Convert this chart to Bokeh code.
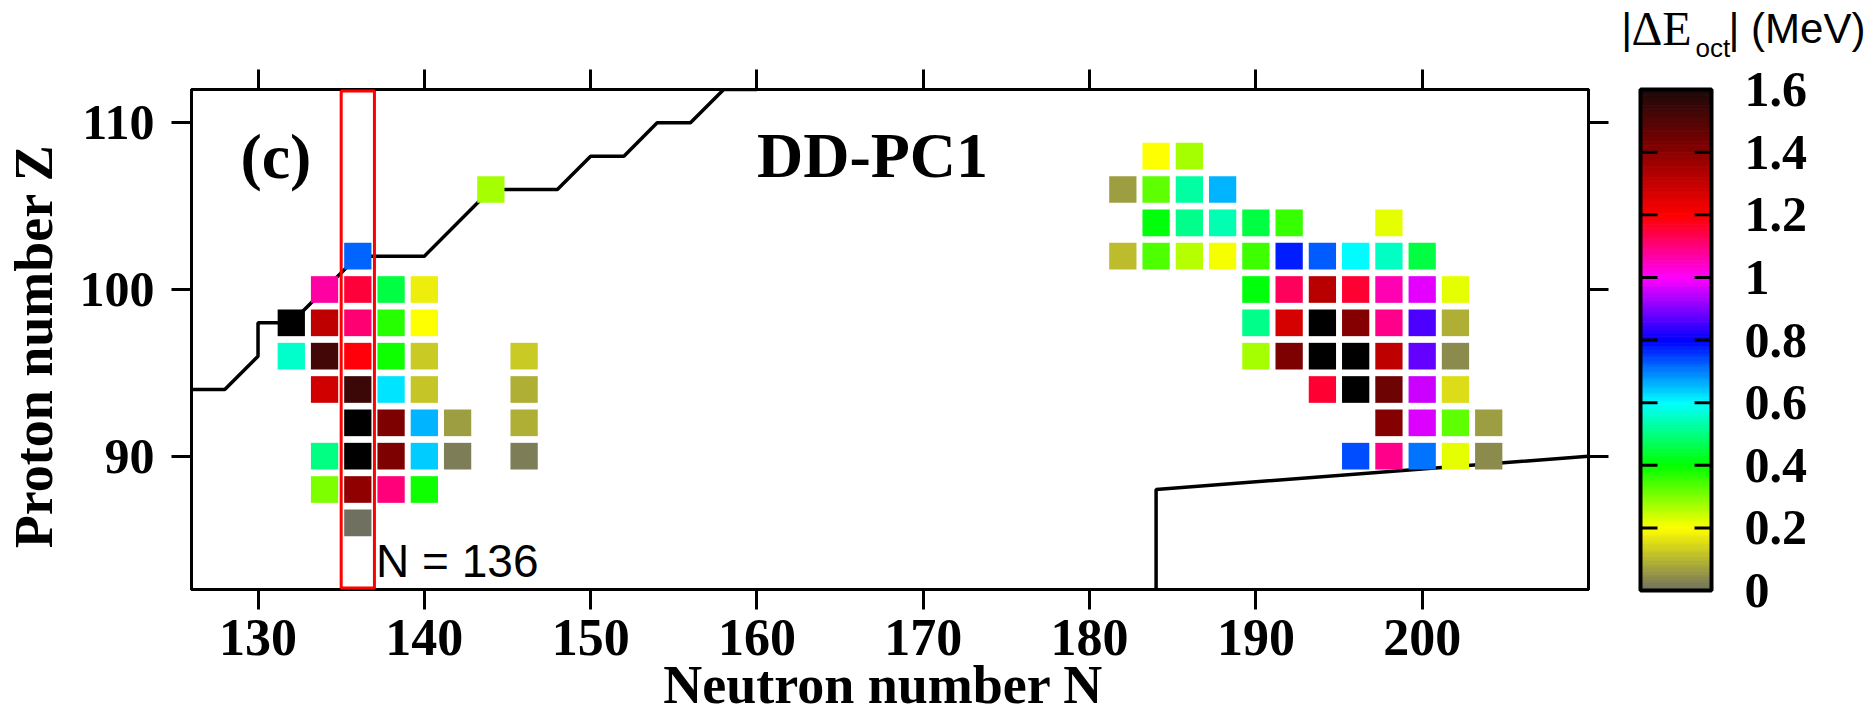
import numpy as np
from bokeh.plotting import figure
from bokeh.layouts import row
from bokeh.models import (ColumnDataSource, LinearColorMapper, FixedTicker, LinearAxis,
                          Label, Range1d, CustomJSTickFormatter)
from bokeh.core.properties import value
from bokeh.transform import transform
from bokeh.embed import file_html
from bokeh.resources import INLINE

# ---------------- data ----------------
# light-actinide island (N, Z, |dE_oct| MeV)
N_left = [144,
          136,
          134, 136, 138, 140,
          132, 134, 136, 138, 140,
          132, 134, 136, 138, 140, 146,
          134, 136, 138, 140, 146,
          136, 138, 140, 142, 146,
          134, 136, 138, 140, 142, 146,
          134, 136, 138, 140,
          136]
Z_left = [106,
          102,
          100, 100, 100, 100,
          98, 98, 98, 98, 98,
          96, 96, 96, 96, 96, 96,
          94, 94, 94, 94, 94,
          92, 92, 92, 92, 92,
          90, 90, 90, 90, 90, 90,
          88, 88, 88, 88,
          86]
E_left = [0.27,
          0.72,
          1.07, 1.15, 0.45, 0.18,
          1.70, 1.31, 1.11, 0.37, 0.20,
          0.56, 1.53, 1.19, 0.39, 0.13, 0.13,
          1.28, 1.54, 0.62, 0.12, 0.09,
          1.70, 1.42, 0.66, 0.065, 0.09,
          0.50, 1.70, 1.42, 0.64, 0.02, 0.02,
          0.30, 1.39, 1.10, 0.39,
          0.0]

# superheavy island
N_right = [184, 186,
           182, 184, 186, 188,
           184, 186, 188, 190, 192, 198,
           182, 184, 186, 188, 190, 192, 194, 196, 198, 200,
           190, 192, 194, 196, 198, 200, 202,
           190, 192, 194, 196, 198, 200, 202,
           190, 192, 194, 196, 198, 200, 202,
           194, 196, 198, 200, 202,
           198, 200, 202, 204,
           196, 198, 200, 202, 204]
Z_right = [108, 108,
           106, 106, 106, 106,
           104, 104, 104, 104, 104, 104,
           102, 102, 102, 102, 102, 102, 102, 102, 102, 102,
           100, 100, 100, 100, 100, 100, 100,
           98, 98, 98, 98, 98, 98, 98,
           96, 96, 96, 96, 96, 96, 96,
           94, 94, 94, 94, 94,
           92, 92, 92, 92,
           90, 90, 90, 90, 90]
E_right = [0.20, 0.27,
           0.065, 0.325, 0.525, 0.66,
           0.41, 0.51, 0.54, 0.45, 0.36, 0.22,
           0.11, 0.34, 0.26, 0.21, 0.35, 0.775, 0.725, 0.60, 0.55, 0.45,
           0.41, 1.125, 1.32, 1.16, 1.06, 0.975, 0.22,
           0.51, 1.27, 1.70, 1.41, 1.09, 0.86, 0.09,
           0.27, 1.42, 1.70, 1.70, 1.31, 0.875, 0.04,
           1.16, 1.70, 1.45, 0.96, 0.156,
           1.41, 0.97, 0.325, 0.065,
           0.74, 1.09, 0.71, 0.22, 0.04]

# proton drip line and right boundary
drip_N = [126, 128, 130, 130, 132, 136, 140, 144, 148, 150, 152, 154, 156, 158, 160]
drip_Z = [94, 94, 96, 98, 98, 102, 102, 106, 106, 108, 108, 110, 110, 112, 112]
bound_N = [184, 184, 210]
bound_Z = [82, 88, 90]

highlight_N = 136

x_ticks = [130, 140, 150, 160, 170, 180, 190, 200]
y_ticks = [90, 100, 110]
cb_ticks = [0, 0.2, 0.4, 0.6, 0.8, 1.0, 1.2, 1.4, 1.6]
cb_labels = ["0", "0.2", "0.4", "0.6", "0.8", "1", "1.2", "1.4", "1.6"]

# colour scale anchors
anchor_vals = [0, 0.2, 0.4, 0.6, 0.8, 1.0, 1.2, 1.4, 1.6]
anchor_rgb = [(112, 112, 96), (255, 255, 0), (0, 255, 0), (0, 255, 255), (0, 0, 255),
              (255, 0, 255), (255, 0, 0), (140, 0, 0), (28, 10, 10)]

# ---------------- palette ----------------
lv = np.linspace(0, 1.6, 256)
rr = np.interp(lv, anchor_vals, [c[0] for c in anchor_rgb])
gg = np.interp(lv, anchor_vals, [c[1] for c in anchor_rgb])
bb = np.interp(lv, anchor_vals, [c[2] for c in anchor_rgb])
palette = ["#%02x%02x%02x" % (int(round(a)), int(round(b)), int(round(c))) for a, b, c in zip(rr, gg, bb)]
mapper = LinearColorMapper(palette=palette, low=0, high=1.6, high_color="#000000", low_color=palette[0])

SERIF = "Liberation Serif"
SANS = "Liberation Sans"

# ---------------- main figure ----------------
p = figure(width=1620, height=717, x_range=Range1d(126, 210), y_range=Range1d(82, 112),
           output_backend="svg", toolbar_location=None, frame_align=False,
           min_border_left=187, min_border_right=32, min_border_top=89, min_border_bottom=127)
p.xgrid.visible = False
p.ygrid.visible = False
p.outline_line_color = "black"
p.outline_line_width = 3
p.background_fill_color = "white"

for ax in (p.xaxis[0], p.yaxis[0]):
    ax.axis_line_width = 3
    ax.axis_line_color = "black"
    ax.major_tick_line_width = 3
    ax.major_tick_line_color = "black"
    ax.major_tick_out = 20
    ax.major_tick_in = 0
    ax.minor_tick_line_color = None
    ax.major_label_text_font = SERIF
    ax.major_label_text_font_style = "bold"
    ax.major_label_text_color = "black"
    ax.axis_label_text_font = SERIF
    ax.axis_label_text_font_style = "bold"
    ax.axis_label_text_font_size = "54px"
    ax.axis_label_text_color = "black"

p.xaxis[0].ticker = FixedTicker(ticks=x_ticks)
p.yaxis[0].ticker = FixedTicker(ticks=y_ticks)
p.xaxis[0].major_label_text_font_size = "52px"
p.yaxis[0].major_label_text_font_size = "50px"
p.xaxis[0].major_label_standoff = 10
p.yaxis[0].major_label_standoff = 17
p.xaxis[0].axis_label = "Neutron number  N"
p.yaxis[0].axis_label = "Proton number  Z"
p.xaxis[0].axis_label_standoff = -3
p.yaxis[0].axis_label_standoff = 13

blank = CustomJSTickFormatter(code="return ''")
top_ax = LinearAxis(ticker=FixedTicker(ticks=x_ticks), formatter=blank, major_tick_out=20,
                    major_tick_in=0, major_tick_line_width=3, axis_line_width=3,
                    major_tick_line_color="black", axis_line_color="black",
                    minor_tick_line_color=None, major_label_standoff=0)
right_ax = LinearAxis(ticker=FixedTicker(ticks=y_ticks), formatter=blank, major_tick_out=20,
                      major_tick_in=0, major_tick_line_width=3, axis_line_width=3,
                      major_tick_line_color="black", axis_line_color="black",
                      minor_tick_line_color=None, major_label_standoff=0)
p.add_layout(top_ax, "above")
p.add_layout(right_ax, "right")

p.line(drip_N, drip_Z, line_color="black", line_width=3.5)
p.line(bound_N, bound_Z, line_color="black", line_width=3.5)

src = ColumnDataSource(dict(N=N_left + N_right, Z=Z_left + Z_right, E=E_left + E_right))
p.rect(x="N", y="Z", width=1.64, height=1.6, source=src,
       fill_color=transform("E", mapper), line_color=None)

p.quad(left=[highlight_N - 1], right=[highlight_N + 1], bottom=[82.09], top=[111.91],
       fill_color=None, line_color="#ff0000", line_width=3, level="overlay")

p.add_layout(Label(x=128.94, y=107.99, text="(c)", text_font=SERIF, text_font_style="bold",
                   text_font_size="64px", text_baseline="middle", text_color="black"))
p.add_layout(Label(x=160.0, y=108.05, text="DD-PC1", text_font=SERIF, text_font_style="bold",
                   text_font_size="64px", text_baseline="middle", text_color="black"))
p.add_layout(Label(x=137.1, y=83.74, text="N = %d" % highlight_N, text_font=SANS,
                   text_font_size="46px", text_baseline="middle", text_color="black"))

# ---------------- colour bar figure (frame = whole canvas) ----------------
# bar spans x 0..1 (71 px), value 0..1.6 (501 px)
cb = figure(width=251, height=717, x_range=Range1d(-20 / 71, 231 / 71),
            y_range=Range1d(-127 / 313.125, 590 / 313.125),
            output_backend="svg", toolbar_location=None, title=None, frame_align=False,
            x_axis_location=None, y_axis_location=None,
            min_border_left=0, min_border_right=0, min_border_top=0, min_border_bottom=0)
cb.xgrid.visible = False
cb.ygrid.visible = False
cb.outline_line_color = None

lev = np.linspace(0, 1.6, 321)
mids = 0.5 * (lev[:-1] + lev[1:])
cb_src = ColumnDataSource(dict(b=lev[:-1], t=lev[1:], m=mids))
cb.quad(left=0, right=1, bottom="b", top="t", source=cb_src,
        fill_color=transform("m", mapper), line_color=transform("m", mapper), line_width=1)
cb.quad(left=[0], right=[1], bottom=[cb_ticks[0]], top=[cb_ticks[-1]], fill_color=None,
        line_color="black", line_width=4)

tick_len = 17 / 71
inner = cb_ticks[1:-1]
cb.segment(x0=[0] * len(inner), y0=inner, x1=[tick_len] * len(inner), y1=inner,
           line_color="black", line_width=3)
cb.segment(x0=[1 - tick_len] * len(inner), y0=inner, x1=[1] * len(inner), y1=inner,
           line_color="black", line_width=3)
cb.text(x=[1 + 33 / 71] * len(cb_ticks), y=cb_ticks, text=cb_labels,
        text_font=value(SERIF), text_font_style="bold", text_font_size="50px",
        text_align="left", text_baseline="middle", text_color="black")

# title |ΔE_oct| (MeV)
cb.text(x=[-0.27], y=[1.795], text=["|"], text_font=value(SANS), text_font_size="42px",
        text_baseline="middle", text_color="black")
cb.text(x=[-0.127], y=[1.795], text=["ΔE"], text_font=value(SERIF), text_font_size="48px",
        text_baseline="middle", text_color="black")
cb.text(x=[0.775], y=[1.7325], text=["oct"], text_font=value(SANS), text_font_size="26px",
        text_baseline="middle", text_color="black")
cb.text(x=[1.239], y=[1.795], text=["| (MeV)"], text_font=value(SANS), text_font_size="42px",
        text_baseline="middle", text_color="black")

layout = row(p, cb)
open("out.html", "w").write(file_html(layout, INLINE))
